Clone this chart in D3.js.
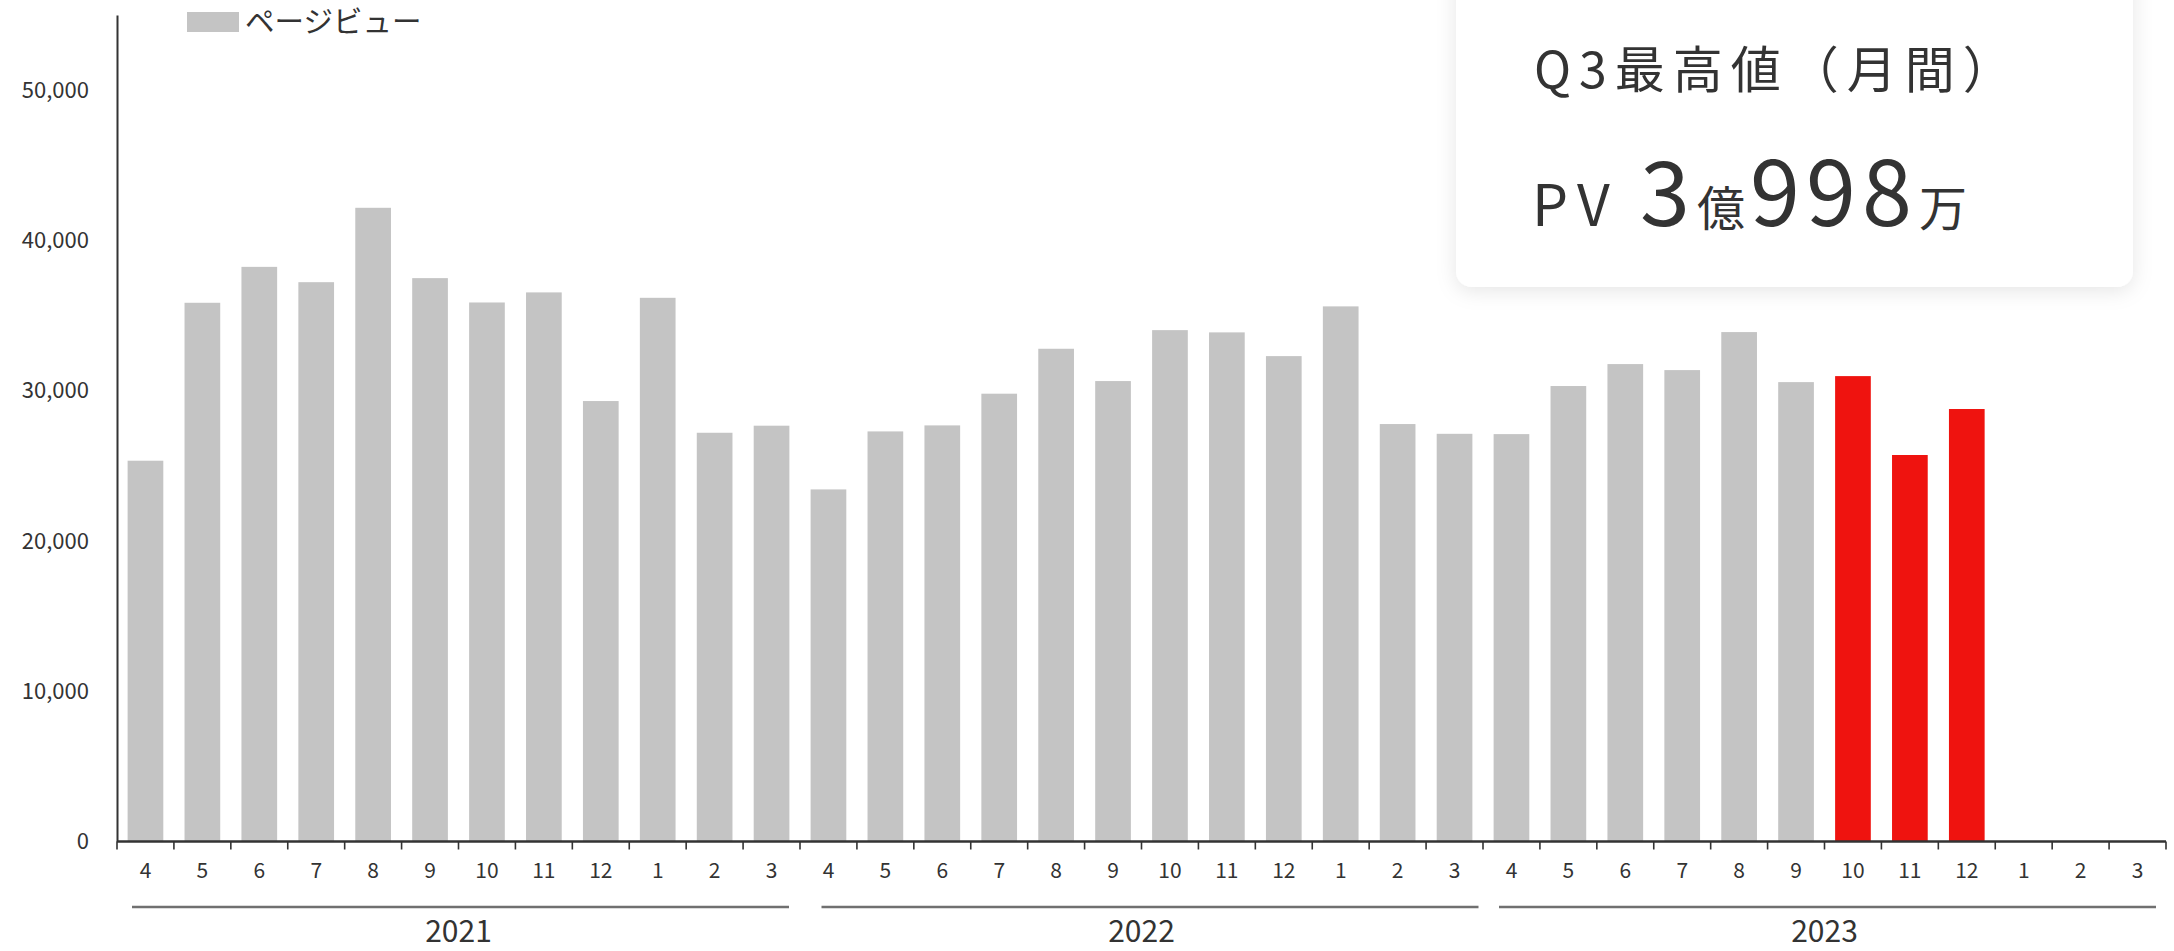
<!DOCTYPE html>
<html>
<head>
<meta charset="utf-8">
<script src="https://cdn.jsdelivr.net/npm/d3@7"></script>
<style>
  html, body { margin: 0; padding: 0; background: #fff; }
  svg { display: block; }
  text { font-family: "Noto Sans CJK JP", "Noto Sans", sans-serif; fill: #333; }
</style>
</head>
<body>
<svg id="chart" width="2174" height="951"></svg>
<script>
// ---- data ----
const fiscalYears = ["2021", "2022", "2023"];
const monthTicks = ["4", "5", "6", "7", "8", "9", "10", "11", "12", "1", "2", "3"];
const pv2021 = [25340, 35850, 38240, 37220, 42170, 37490, 35870, 36540, 29310, 36180, 27200, 27670];
const pv2022 = [23430, 27290, 27690, 29800, 32790, 30640, 34030, 33880, 32300, 35610, 27780, 27130];
const pv2023 = [27110, 30310, 31770, 31370, 33900, 30570, 30970, 25720, 28780, null, null, null];
const highlightKeys = ["2023-10", "2023-11", "2023-12"];
const yTicks = [0, 10000, 20000, 30000, 40000, 50000];
const legendLabel = "ページビュー";
const boxTitle = "Q3最高値（月間）";
const boxValueParts = ["PV", "3", "億", "998", "万"];

const seriesByYear = { "2021": pv2021, "2022": pv2022, "2023": pv2023 };
const data = [];
fiscalYears.forEach(fy => {
  monthTicks.forEach((m, i) => {
    data.push({ key: fy + "-" + m, fy, month: m, value: seriesByYear[fy][i] });
  });
});

// ---- layout ----
const svg = d3.select("#chart");
const mLeft = 117, mRight = 2166, mTop = 15, mBottom = 841.5;
const yearLineNudge = { "2021": 2, "2022": 8.5, "2023": 3 };

const x = d3.scaleBand()
  .domain(data.map(d => d.key))
  .range([mLeft, mRight])
  .paddingInner(0.373)
  .paddingOuter(0.1865);

const y = d3.scaleLinear().domain([0, 55000]).range([mBottom, mTop]);

const defs = svg.append("defs");
const f = defs.append("filter").attr("id", "shadow")
  .attr("x", "-10%").attr("y", "-10%").attr("width", "120%").attr("height", "130%");
f.append("feDropShadow").attr("dx", 0).attr("dy", 4).attr("stdDeviation", 10)
  .attr("flood-color", "#000").attr("flood-opacity", 0.10);

// bars
svg.append("g").selectAll("rect")
  .data(data.filter(d => d.value != null))
  .join("rect")
  .attr("x", d => x(d.key))
  .attr("width", x.bandwidth())
  .attr("y", d => y(d.value))
  .attr("height", d => y(0) - y(d.value))
  .attr("fill", d => highlightKeys.includes(d.key) ? "#ef130f" : "#c4c4c4");

// y axis
const yAxis = svg.append("g").attr("transform", `translate(${mLeft},0)`)
  .call(d3.axisLeft(y).tickValues(yTicks).tickSize(0).tickPadding(28)
    .tickFormat(d3.format(",")));
yAxis.select(".domain").attr("stroke", "#333").attr("stroke-width", 2);
yAxis.selectAll("text").attr("font-size", 22).attr("fill", "#333")
  .style("font-family", '"Noto Sans CJK JP", sans-serif');

// x axis baseline + ticks at band boundaries
const step = x.step();
const boundary = i => mLeft + i * step;
svg.append("line")
  .attr("x1", mLeft).attr("x2", mRight).attr("y1", mBottom).attr("y2", mBottom)
  .attr("stroke", "#333").attr("stroke-width", 2.5);
svg.append("g").selectAll("line")
  .data(d3.range(data.length + 1))
  .join("line")
  .attr("x1", i => boundary(i)).attr("x2", i => boundary(i))
  .attr("y1", mBottom).attr("y2", mBottom + 8)
  .attr("stroke", "#333").attr("stroke-width", 1.6);

// month labels
svg.append("g").selectAll("text")
  .data(data)
  .join("text")
  .attr("x", d => x(d.key) + x.bandwidth() / 2)
  .attr("y", 870)
  .attr("dy", "0.36em")
  .attr("text-anchor", "middle")
  .attr("font-size", 21)
  .text(d => d.month);

// fiscal year groups
const groupCenter = fy => (x(fy + "-" + monthTicks[0]) + x(fy + "-" + monthTicks[11]) + x.bandwidth()) / 2;
const lineHalf = (step * 12 - 26) / 2;
const fyG = svg.append("g").selectAll("g").data(fiscalYears).join("g");
fyG.append("line")
  .attr("x1", fy => groupCenter(fy) + yearLineNudge[fy] - lineHalf)
  .attr("x2", fy => groupCenter(fy) + yearLineNudge[fy] + lineHalf)
  .attr("y1", 907).attr("y2", 907)
  .attr("stroke", "#707070").attr("stroke-width", 2.6);
fyG.append("text")
  .attr("x", fy => groupCenter(fy))
  .attr("y", 931)
  .attr("dy", "0.36em")
  .attr("text-anchor", "middle")
  .attr("font-size", 30)
  .text(fy => fy);

// legend
const lg = svg.append("g");
lg.append("rect").attr("x", 187).attr("y", 12).attr("width", 52).attr("height", 20).attr("fill", "#c4c4c4");
lg.append("text").attr("x", 245).attr("y", 31.5).attr("font-size", 29.5).attr("fill", "#333").text(legendLabel);

// info box
const box = svg.append("g");
box.append("rect")
  .attr("x", 1456).attr("y", -40).attr("width", 677).attr("height", 327)
  .attr("rx", 16).attr("fill", "#fff").attr("filter", "url(#shadow)");
box.append("text")
  .attr("x", 1534).attr("y", 88)
  .attr("font-size", 50)
  .attr("letter-spacing", 8)
  .text(boxTitle);
const v = box.append("text").attr("y", 226);
v.append("tspan").attr("x", 1532).attr("font-size", 57).attr("letter-spacing", 9).text(boxValueParts[0]);
v.append("tspan").attr("x", 1640).attr("font-size", 90).text(boxValueParts[1]);
v.append("tspan").attr("x", 1697).attr("font-size", 48).text(boxValueParts[2]);
v.append("tspan").attr("x", 1750).attr("font-size", 90).attr("letter-spacing", 6).text(boxValueParts[3]);
v.append("tspan").attr("x", 1919).attr("font-size", 48).text(boxValueParts[4]);
</script>
</body>
</html>
